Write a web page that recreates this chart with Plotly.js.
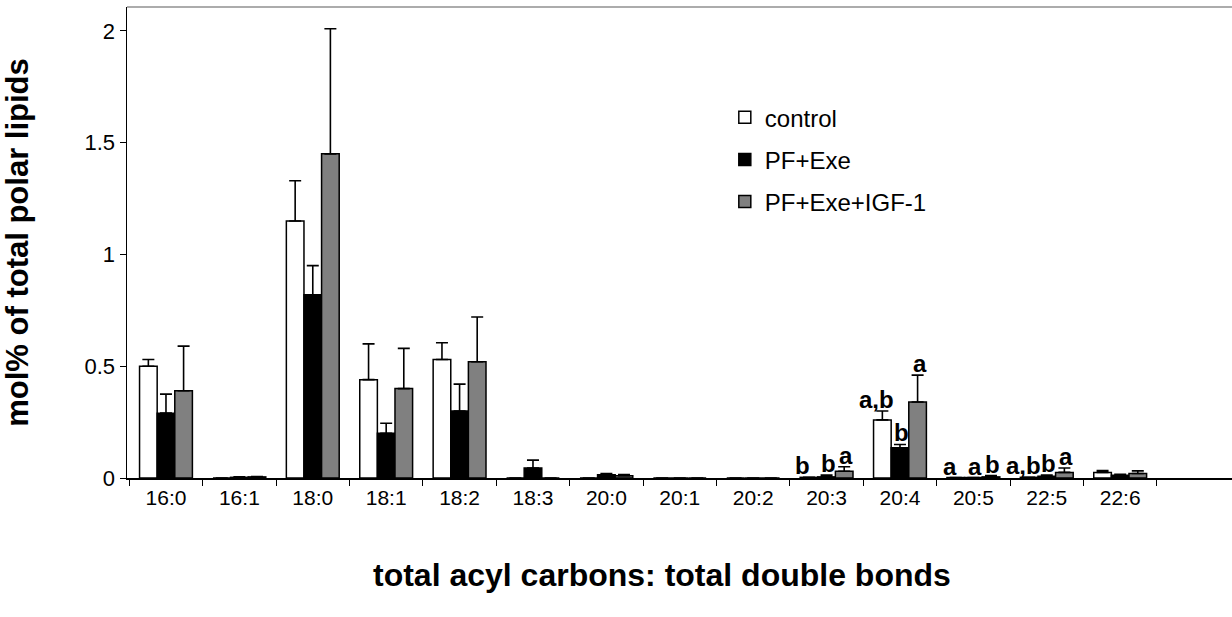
<!DOCTYPE html>
<html>
<head>
<meta charset="utf-8">
<script src="https://cdn.plot.ly/plotly-3.0.1.min.js"></script>
<style>
  html, body { margin: 0; padding: 0; background: #fff; }
  #chart { width: 1232px; height: 617px; }
</style>
</head>
<body>
<div id="chart"></div>
<script>
// Fatty acyl species (carbons : double bonds)
const categories = ['16:0','16:1','18:0','18:1','18:2','18:3','20:0','20:1','20:2','20:3','20:4','20:5','22:5','22:6'];

// Group means (mol% of total polar lipids) and upper error (SEM)
const controlMean = [0.50, 0.000, 1.15, 0.44, 0.53, 0.000, 0.000, 0.000, 0.000, 0.003, 0.26, 0.002, 0.003, 0.025];
const controlErr  = [0.03, 0.000, 0.18, 0.16, 0.075, 0.000, 0.000, 0.000, 0.000, 0.000, 0.04, 0.000, 0.000, 0.008];
const pfExeMean   = [0.29, 0.003, 0.82, 0.20, 0.30, 0.045, 0.015, 0.000, 0.000, 0.005, 0.135, 0.002, 0.008, 0.012];
const pfExeErr    = [0.085, 0.002, 0.13, 0.045, 0.12, 0.035, 0.005, 0.000, 0.000, 0.008, 0.015, 0.000, 0.005, 0.004];
const igfMean     = [0.39, 0.005, 1.45, 0.40, 0.52, 0.000, 0.010, 0.000, 0.000, 0.030, 0.34, 0.005, 0.025, 0.020];
const igfErr      = [0.20, 0.002, 0.56, 0.18, 0.20, 0.000, 0.005, 0.000, 0.000, 0.020, 0.12, 0.006, 0.020, 0.012];

// Significance letters per group
const controlLetters = ['','','','','','','','','','b','a,b','a','a,b',''];
const pfExeLetters   = ['','','','','','','','','','b','b','a','b',''];
const igfLetters     = ['','','','','','','','','','a','a','b','a',''];

const seriesNames = ['control', 'PF+Exe', 'PF+Exe+IGF-1'];
const fills = ['#ffffff', '#000000', '#808080'];

const means = [controlMean, pfExeMean, igfMean];
const errs = [controlErr, pfExeErr, igfErr];
const letters = [controlLetters, pfExeLetters, igfLetters];

const traces = means.map((m, k) => ({
  type: 'bar',
  name: seriesNames[k],
  legendgroup: 'g' + k,
  x: categories,
  y: m,
  marker: { color: fills[k], line: { color: '#000000', width: 1.5 } },
  error_y: {
    type: 'data', array: errs[k], arrayminus: errs[k].map(() => 0),
    symmetric: false, color: '#000000', thickness: 1.6, width: 6
  },
  hoverinfo: 'x+y+name'
}));

// Plot geometry: the value axis sits at x=127, categories are 73.4 px apart
const margin = { l: 127, r: 0, t: 7, b: 139 };
const plotW = 1232 - margin.l - margin.r;
const plotH = 617 - margin.t - margin.b;
const catPx = 73.4;
const xStart = -0.531;
const xEnd = xStart + plotW / catPx;
const bargap = 0.28;
const barPx = catPx * (1 - bargap) / 3;

// Letters sit over their own bar; the outer ones are nudged apart so they stay readable
const letterNudge = [-6, 2, 2];
const letterFont = { family: 'Liberation Sans, Arial, sans-serif', size: 24, color: '#000' };
const annotations = [];
letters.forEach((arr, k) => {
  arr.forEach((txt, i) => {
    if (!txt) return;
    annotations.push({
      x: categories[i],
      y: means[k][i] + errs[k][i],
      xref: 'x', yref: 'y',
      text: '<b>' + txt + '</b>',
      showarrow: false,
      xanchor: 'center', yanchor: 'bottom',
      xshift: (k - 1) * barPx + letterNudge[k],
      yshift: -4,
      font: letterFont
    });
  });
});

// Category-axis title, centred under the labelled categories
annotations.push({
  xref: 'paper', yref: 'paper',
  x: (662 - margin.l) / plotW, y: -(575 - (617 - margin.b)) / plotH,
  xanchor: 'center', yanchor: 'middle',
  text: '<b>total acyl carbons: total double bonds</b>',
  showarrow: false,
  font: { family: 'Liberation Sans, Arial, sans-serif', size: 32, color: '#000' }
});

const layout = {
  width: 1232, height: 617,
  margin: margin,
  paper_bgcolor: '#ffffff', plot_bgcolor: '#ffffff',
  barmode: 'group', bargap: bargap, bargroupgap: 0,
  font: { family: 'Liberation Sans, Arial, sans-serif', color: '#000' },
  showlegend: true,
  legend: {
    x: 0.541, y: 0.813, xanchor: 'left', yanchor: 'top',
    font: { size: 24, color: '#000' }, bgcolor: 'rgba(0,0,0,0)',
    traceorder: 'grouped', tracegroupgap: 8, itemwidth: 30
  },
  xaxis: {
    type: 'category', range: [xStart, xEnd],
    showline: true, linecolor: '#000', linewidth: 1.5,
    ticks: 'outside', tickson: 'boundaries', ticklen: 6, tickcolor: '#000',
    tickfont: { size: 21 }, showgrid: false, zeroline: false
  },
  yaxis: {
    range: [0, 2.107],
    tickvals: [0, 0.5, 1, 1.5, 2], ticktext: ['0', '0.5', '1', '1.5', '2'],
    showline: true, linecolor: '#000', linewidth: 1.5,
    ticks: 'outside', ticklen: 6, tickcolor: '#000',
    tickfont: { size: 22 }, showgrid: false, zeroline: false,
    title: { text: '<b>mol% of total polar lipids</b>', font: { size: 31 }, standoff: 48 }
  },
  shapes: [
    { type: 'line', xref: 'paper', yref: 'paper', x0: 0, x1: 1, y0: 1, y1: 1,
      line: { color: '#909090', width: 1.5 } }
  ],
  annotations: annotations
};

Plotly.newPlot('chart', traces, layout, { displayModeBar: false, staticPlot: true });
</script>
</body>
</html>
